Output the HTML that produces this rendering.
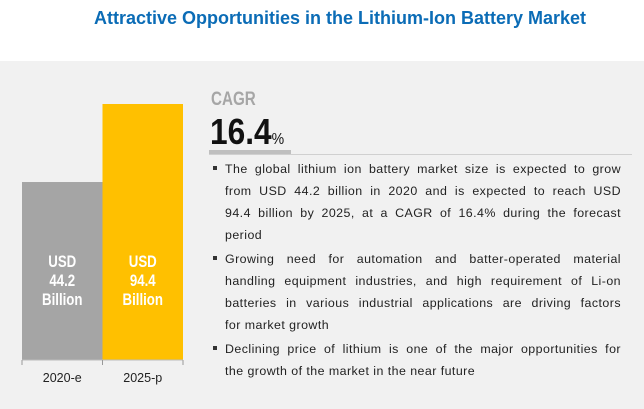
<!DOCTYPE html>
<html><head><meta charset="utf-8"><style>
body{margin:0;width:644px;height:409px;overflow:hidden;background:#fff;font-family:"Liberation Sans",sans-serif}
#title{position:absolute;left:0;width:644px;top:8px;text-align:center;font-weight:bold;font-size:18px;color:#0b6cb6;padding-left:36px;box-sizing:border-box}
#panel{position:absolute;left:0;top:61px;width:644px;height:348px;background:#f1f1f1}
svg{position:absolute;left:0;top:0}
#cagr{position:absolute;left:211px;top:89px;font-size:19px;font-weight:bold;color:#a6a6a6;transform:scaleX(.8);transform-origin:left}
#val{position:absolute;left:210px;top:111px;font-size:36px;font-weight:bold;color:#111;transform:scaleX(.88);transform-origin:left}
#val span{font-size:16px;font-weight:normal}
#ul1{position:absolute;left:209px;top:150px;width:82px;height:4px;background:#bfbfbf}
#ul2{position:absolute;left:209px;top:154px;width:423px;height:1px;background:#d0d0d0}
.b{position:absolute;left:225px;width:396px;font-size:12.4px;line-height:22px;color:#222;letter-spacing:0.45px}
.b div{text-align:justify;text-align-last:justify;white-space:nowrap}
.b div.last{text-align-last:left}
.dot{position:absolute;left:213px;width:4px;height:4px;background:#333}
</style></head><body>
<div id="title">Attractive Opportunities in the Lithium-Ion Battery Market</div>
<div id="panel"></div>
<svg id="chart" width="644" height="409"></svg>
<div id="cagr">CAGR</div>
<div id="val">16.4<span>%</span></div>
<div id="ul1"></div>
<div id="ul2"></div>
<div class="dot" style="top:166px"></div>
<div class="b" style="top:158px">
<div>The global lithium ion battery market size is expected to grow</div>
<div>from USD 44.2 billion in 2020 and is expected to reach USD</div>
<div>94.4 billion by 2025, at a CAGR of 16.4% during the forecast</div>
<div class="last">period</div></div>
<div class="dot" style="top:256px"></div>
<div class="b" style="top:248px">
<div>Growing need for automation and batter-operated material</div>
<div>handling equipment industries, and high requirement of Li-on</div>
<div>batteries in various industrial applications are driving factors</div>
<div class="last">for market growth</div></div>
<div class="dot" style="top:346px"></div>
<div class="b" style="top:338px">
<div>Declining price of lithium is one of the major opportunities for</div>
<div class="last">the growth of the market in the near future</div></div>
<script>
const categories=["2020-e","2025-p"];
const values=[44.2,94.4];
const valueLabels=["44.2","94.4"];
const colors=["#a5a5a5","#ffc000"];
const NS="http://www.w3.org/2000/svg";
const svg=document.getElementById("chart");
const baseY=360,x0=22,bw=80.5;
function yScale(v){return baseY-(109.3+1.554*v);}
function xScale(i){return x0+i*bw;}
function mk(t,a,p){const e=document.createElementNS(NS,t);for(const k in a)e.setAttribute(k,a[k]);(p||svg).appendChild(e);return e;}
categories.forEach((c,i)=>{
 const r=mk("rect",{x:xScale(i),y:yScale(values[i]),width:bw,height:baseY-yScale(values[i]),fill:colors[i]});
 
 
 const cx=xScale(i)+bw/2;
 const g=mk("g",{transform:"translate("+cx+",0) scale(0.78,1)"});
 ["USD",valueLabels[i],"Billion"].forEach((s,j)=>{
  const t=mk("text",{x:0,y:267+j*19,"text-anchor":"middle","font-size":"17","font-weight":"bold",fill:"#fff"},g);
  t.textContent=s;
  
  
 });
 const l=mk("text",{x:cx,y:382,"text-anchor":"middle","font-size":"12.5",fill:"#222"});
 l.textContent=c;
 
 
});
const ax=mk("line",{x1:x0,x2:x0+2*bw,y1:baseY,y2:baseY,stroke:"#bbb"});


for(let i=0;i<=categories.length;i++){
 const tk=mk("line",{x1:xScale(i),x2:xScale(i),y1:baseY,y2:baseY+5,stroke:"#999"});
 
 
}
</script>
</body></html>
